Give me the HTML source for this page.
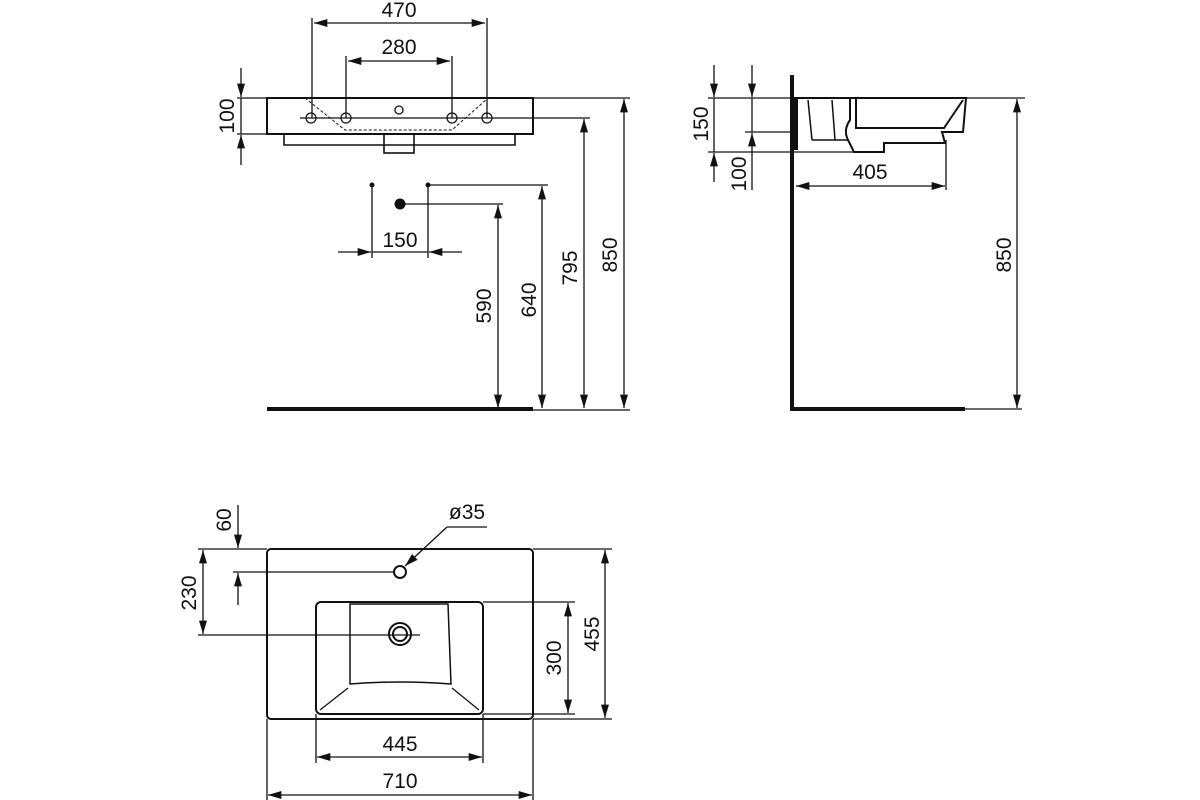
<!DOCTYPE html>
<html><head><meta charset="utf-8"><style>html,body{margin:0;padding:0;background:#fff}svg{display:block}text{font-family:"Liberation Sans",sans-serif;font-size:21px;fill:#111}</style></head>
<body>
<svg width="1200" height="800" viewBox="0 0 1200 800" xmlns="http://www.w3.org/2000/svg">
<defs>
<marker id="a" viewBox="0 0 10 6" refX="10" refY="3" markerWidth="14" markerHeight="8" markerUnits="userSpaceOnUse" orient="auto-start-reverse"><path d="M0,0L10,3L0,6z" fill="#111"/></marker>
</defs>
<g stroke="#111" fill="none" stroke-width="1.3">
<rect x="267" y="98" width="266" height="36" stroke-width="2"/>
<path d="M284,134V145H515V134" stroke-width="1.6"/>
<rect x="384" y="134" width="30" height="19" stroke-width="1.6"/>
<path d="M305,98L345,130L452,130L488,98" stroke-dasharray="3,2" stroke-width="1"/>
<circle cx="399" cy="110" r="4"/>
<g stroke-width="1.2">
<circle cx="311" cy="118" r="5"/><circle cx="346" cy="118" r="5"/><circle cx="452" cy="118" r="5"/><circle cx="487" cy="118" r="5"/>
</g>
<line x1="300" y1="118" x2="590" y2="118"/>
<line x1="533" y1="98" x2="630" y2="98"/>
<line x1="312" y1="18" x2="312" y2="118"/><line x1="487" y1="18" x2="487" y2="118"/>
<line x1="314" y1="23" x2="485" y2="23" marker-start="url(#a)" marker-end="url(#a)"/>
<line x1="346" y1="56" x2="346" y2="118"/><line x1="452" y1="56" x2="452" y2="118"/>
<line x1="348" y1="61" x2="450" y2="61" marker-start="url(#a)" marker-end="url(#a)"/>
<line x1="237" y1="98" x2="267" y2="98"/><line x1="237" y1="134" x2="267" y2="134"/>
<line x1="241" y1="68" x2="241" y2="97" marker-end="url(#a)"/>
<line x1="241" y1="98" x2="241" y2="134"/>
<line x1="241" y1="165" x2="241" y2="135" marker-end="url(#a)"/>
<line x1="372" y1="185" x2="372" y2="258"/><line x1="428" y1="185" x2="428" y2="258"/>
<line x1="428" y1="185" x2="548" y2="185"/><line x1="400" y1="204" x2="503" y2="204"/>
<line x1="338" y1="252" x2="371" y2="252" marker-end="url(#a)"/>
<line x1="462" y1="252" x2="429" y2="252" marker-end="url(#a)"/>
<line x1="372" y1="252" x2="428" y2="252"/>
<line x1="498" y1="205" x2="498" y2="408" marker-start="url(#a)" marker-end="url(#a)"/>
<line x1="542" y1="186" x2="542" y2="408" marker-start="url(#a)" marker-end="url(#a)"/>
<line x1="584" y1="119" x2="584" y2="408" marker-start="url(#a)" marker-end="url(#a)"/>
<line x1="624" y1="99" x2="624" y2="408" marker-start="url(#a)" marker-end="url(#a)"/>
<line x1="267" y1="409" x2="533" y2="409" stroke-width="4"/>
<line x1="533" y1="410" x2="630" y2="410"/>
<line x1="792" y1="75" x2="792" y2="411" stroke-width="4"/>
<line x1="792" y1="409" x2="965" y2="409" stroke-width="4"/>
<line x1="708" y1="98" x2="1025" y2="98"/>
<path d="M794,98H966L963,132H942L945,143H884V152H854L848,140Q843,130 850,120V98" stroke-width="2"/>
<path d="M808,100L812,140M832,100L835,140M848,140H812" stroke-width="1.5"/>
<path d="M856,98V128L944,128L963,100" stroke-width="2"/>
<line x1="794" y1="98" x2="794" y2="150" stroke-width="8"/>
<line x1="708" y1="152" x2="860" y2="152"/>
<line x1="745" y1="132" x2="790" y2="132"/>
<line x1="714" y1="65" x2="714" y2="97" marker-end="url(#a)"/>
<line x1="714" y1="98" x2="714" y2="152"/>
<line x1="714" y1="182" x2="714" y2="153" marker-end="url(#a)"/>
<line x1="752" y1="65" x2="752" y2="97" marker-end="url(#a)"/>
<line x1="752" y1="98" x2="752" y2="132"/>
<line x1="752" y1="190" x2="752" y2="133" marker-end="url(#a)"/>
<line x1="946" y1="140" x2="946" y2="190"/>
<line x1="796" y1="186" x2="945" y2="186" marker-start="url(#a)" marker-end="url(#a)"/>
<line x1="1017" y1="99" x2="1017" y2="408" marker-start="url(#a)" marker-end="url(#a)"/>
<line x1="965" y1="409" x2="1022" y2="409"/>
<rect x="267" y="549" width="266" height="170" rx="4" stroke-width="2"/>
<rect x="316" y="602" width="167" height="112" rx="5" stroke-width="2"/>
<path d="M350,604H448L451,684Q400,680 350,684Z" stroke-width="1.5"/>
<line x1="348" y1="688" x2="320" y2="710"/><line x1="452" y1="688" x2="479" y2="710"/>
<circle cx="400" cy="572" r="6" stroke-width="2"/>
<circle cx="400" cy="634" r="11" stroke-width="2"/><circle cx="400" cy="634" r="7" stroke-width="2"/>
<line x1="233" y1="572" x2="394" y2="572"/>
<line x1="238" y1="505" x2="238" y2="548" marker-end="url(#a)"/>
<line x1="238" y1="605" x2="238" y2="573" marker-end="url(#a)"/>
<path d="M487,527H447"/>
<line x1="447" y1="527" x2="405" y2="566" marker-end="url(#a)"/>
<line x1="198" y1="549" x2="267" y2="549"/><line x1="198" y1="635" x2="420" y2="635"/>
<line x1="203" y1="550" x2="203" y2="634" marker-start="url(#a)" marker-end="url(#a)"/>
<line x1="483" y1="602" x2="575" y2="602"/><line x1="483" y1="714" x2="575" y2="714"/>
<line x1="568" y1="603" x2="568" y2="713" marker-start="url(#a)" marker-end="url(#a)"/>
<line x1="533" y1="549" x2="612" y2="549"/><line x1="533" y1="719" x2="612" y2="719"/>
<line x1="605" y1="550" x2="605" y2="718" marker-start="url(#a)" marker-end="url(#a)"/>
<line x1="316" y1="714" x2="316" y2="763"/><line x1="483" y1="714" x2="483" y2="763"/>
<line x1="317" y1="757" x2="482" y2="757" marker-start="url(#a)" marker-end="url(#a)"/>
<line x1="267" y1="719" x2="267" y2="800"/><line x1="533" y1="719" x2="533" y2="800"/>
<line x1="268" y1="795" x2="532" y2="795" marker-start="url(#a)" marker-end="url(#a)"/>
</g>
<g fill="#111">
<circle cx="372" cy="185" r="2.5"/><circle cx="428" cy="185" r="2.5"/><circle cx="400" cy="204" r="5.5"/>
</g>
<g text-anchor="middle">
<text x="399" y="17">470</text>
<text x="399" y="54">280</text>
<text x="400" y="247">150</text>
<text transform="translate(234,116) rotate(-90)">100</text>
<text transform="translate(491,306) rotate(-90)">590</text>
<text transform="translate(536,300) rotate(-90)">640</text>
<text transform="translate(577,268) rotate(-90)">795</text>
<text transform="translate(617,255) rotate(-90)">850</text>
<text transform="translate(708,124) rotate(-90)">150</text>
<text transform="translate(746,174) rotate(-90)">100</text>
<text x="870" y="179">405</text>
<text transform="translate(1011,255) rotate(-90)">850</text>
<text x="467" y="519">ø35</text>
<text transform="translate(231,520) rotate(-90)">60</text>
<text transform="translate(196,593) rotate(-90)">230</text>
<text transform="translate(561,658) rotate(-90)">300</text>
<text transform="translate(599,634) rotate(-90)">455</text>
<text x="400" y="751">445</text>
<text x="400" y="788">710</text>
</g>
</svg>
</body></html>
